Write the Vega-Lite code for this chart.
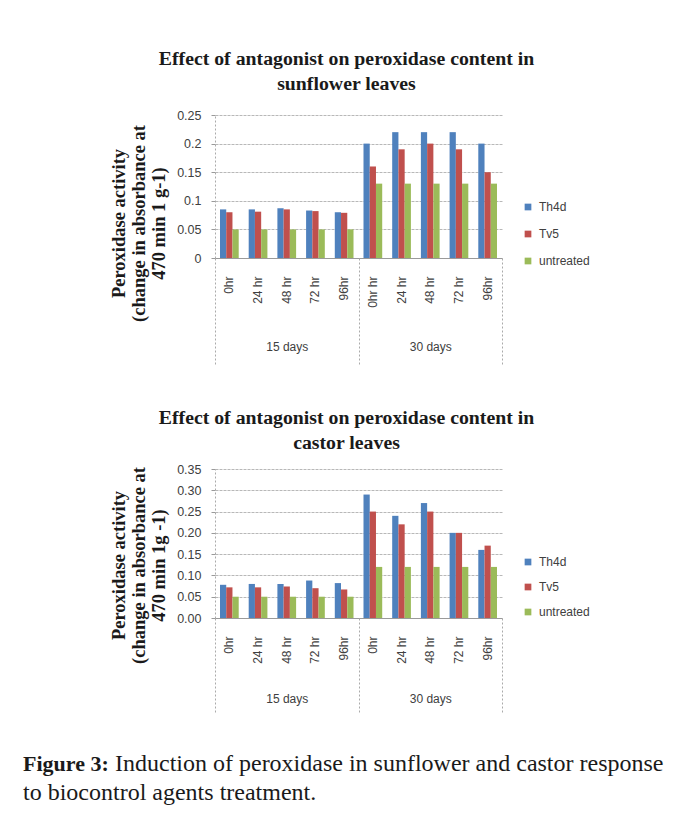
{
  "$schema": "https://vega.github.io/schema/vega-lite/v6.json",
  "background": "white",
  "padding": {"left": 23, "top": 49, "right": 5, "bottom": 5},
  "datasets": {
    "sunflower": [
      {"days": "15 days", "cat": "15 days|0hr", "series": "Th4d", "value": 0.085},
      {"days": "15 days", "cat": "15 days|0hr", "series": "Tv5", "value": 0.080},
      {"days": "15 days", "cat": "15 days|0hr", "series": "untreated", "value": 0.050},
      {"days": "15 days", "cat": "15 days|24 hr", "series": "Th4d", "value": 0.085},
      {"days": "15 days", "cat": "15 days|24 hr", "series": "Tv5", "value": 0.081},
      {"days": "15 days", "cat": "15 days|24 hr", "series": "untreated", "value": 0.050},
      {"days": "15 days", "cat": "15 days|48 hr", "series": "Th4d", "value": 0.087},
      {"days": "15 days", "cat": "15 days|48 hr", "series": "Tv5", "value": 0.085},
      {"days": "15 days", "cat": "15 days|48 hr", "series": "untreated", "value": 0.050},
      {"days": "15 days", "cat": "15 days|72 hr", "series": "Th4d", "value": 0.083},
      {"days": "15 days", "cat": "15 days|72 hr", "series": "Tv5", "value": 0.082},
      {"days": "15 days", "cat": "15 days|72 hr", "series": "untreated", "value": 0.050},
      {"days": "15 days", "cat": "15 days|96hr", "series": "Th4d", "value": 0.080},
      {"days": "15 days", "cat": "15 days|96hr", "series": "Tv5", "value": 0.079},
      {"days": "15 days", "cat": "15 days|96hr", "series": "untreated", "value": 0.050},
      {"days": "30 days", "cat": "30 days|0hr hr", "series": "Th4d", "value": 0.20},
      {"days": "30 days", "cat": "30 days|0hr hr", "series": "Tv5", "value": 0.16},
      {"days": "30 days", "cat": "30 days|0hr hr", "series": "untreated", "value": 0.13},
      {"days": "30 days", "cat": "30 days|24 hr", "series": "Th4d", "value": 0.22},
      {"days": "30 days", "cat": "30 days|24 hr", "series": "Tv5", "value": 0.19},
      {"days": "30 days", "cat": "30 days|24 hr", "series": "untreated", "value": 0.13},
      {"days": "30 days", "cat": "30 days|48 hr", "series": "Th4d", "value": 0.22},
      {"days": "30 days", "cat": "30 days|48 hr", "series": "Tv5", "value": 0.20},
      {"days": "30 days", "cat": "30 days|48 hr", "series": "untreated", "value": 0.13},
      {"days": "30 days", "cat": "30 days|72 hr", "series": "Th4d", "value": 0.22},
      {"days": "30 days", "cat": "30 days|72 hr", "series": "Tv5", "value": 0.19},
      {"days": "30 days", "cat": "30 days|72 hr", "series": "untreated", "value": 0.13},
      {"days": "30 days", "cat": "30 days|96hr", "series": "Th4d", "value": 0.20},
      {"days": "30 days", "cat": "30 days|96hr", "series": "Tv5", "value": 0.15},
      {"days": "30 days", "cat": "30 days|96hr", "series": "untreated", "value": 0.13}
    ],
    "castor": [
      {"days": "15 days", "cat": "15 days|0hr", "series": "Th4d", "value": 0.078},
      {"days": "15 days", "cat": "15 days|0hr", "series": "Tv5", "value": 0.072},
      {"days": "15 days", "cat": "15 days|0hr", "series": "untreated", "value": 0.050},
      {"days": "15 days", "cat": "15 days|24 hr", "series": "Th4d", "value": 0.080},
      {"days": "15 days", "cat": "15 days|24 hr", "series": "Tv5", "value": 0.072},
      {"days": "15 days", "cat": "15 days|24 hr", "series": "untreated", "value": 0.050},
      {"days": "15 days", "cat": "15 days|48 hr", "series": "Th4d", "value": 0.080},
      {"days": "15 days", "cat": "15 days|48 hr", "series": "Tv5", "value": 0.074},
      {"days": "15 days", "cat": "15 days|48 hr", "series": "untreated", "value": 0.050},
      {"days": "15 days", "cat": "15 days|72 hr", "series": "Th4d", "value": 0.088},
      {"days": "15 days", "cat": "15 days|72 hr", "series": "Tv5", "value": 0.070},
      {"days": "15 days", "cat": "15 days|72 hr", "series": "untreated", "value": 0.050},
      {"days": "15 days", "cat": "15 days|96hr", "series": "Th4d", "value": 0.082},
      {"days": "15 days", "cat": "15 days|96hr", "series": "Tv5", "value": 0.067},
      {"days": "15 days", "cat": "15 days|96hr", "series": "untreated", "value": 0.050},
      {"days": "30 days", "cat": "30 days|0hr", "series": "Th4d", "value": 0.29},
      {"days": "30 days", "cat": "30 days|0hr", "series": "Tv5", "value": 0.25},
      {"days": "30 days", "cat": "30 days|0hr", "series": "untreated", "value": 0.12},
      {"days": "30 days", "cat": "30 days|24 hr", "series": "Th4d", "value": 0.24},
      {"days": "30 days", "cat": "30 days|24 hr", "series": "Tv5", "value": 0.22},
      {"days": "30 days", "cat": "30 days|24 hr", "series": "untreated", "value": 0.12},
      {"days": "30 days", "cat": "30 days|48 hr", "series": "Th4d", "value": 0.27},
      {"days": "30 days", "cat": "30 days|48 hr", "series": "Tv5", "value": 0.25},
      {"days": "30 days", "cat": "30 days|48 hr", "series": "untreated", "value": 0.12},
      {"days": "30 days", "cat": "30 days|72 hr", "series": "Th4d", "value": 0.20},
      {"days": "30 days", "cat": "30 days|72 hr", "series": "Tv5", "value": 0.20},
      {"days": "30 days", "cat": "30 days|72 hr", "series": "untreated", "value": 0.12},
      {"days": "30 days", "cat": "30 days|96hr", "series": "Th4d", "value": 0.16},
      {"days": "30 days", "cat": "30 days|96hr", "series": "Tv5", "value": 0.17},
      {"days": "30 days", "cat": "30 days|96hr", "series": "untreated", "value": 0.12}
    ]
  },
  "title": {
    "text": "Induction of peroxidase in sunflower and castor response",
    "orient": "bottom", "anchor": "start", "frame": "bounds",
    "font": "Liberation Serif", "fontSize": 24, "fontWeight": "normal", "color": "#1a1a1a",
    "dx": 92, "dy": -53, "offset": 0
  },
  "vconcat": [
    {
      "title": {
        "text": "Figure 3:", "subtitle": "to biocontrol agents treatment.",
        "orient": "bottom", "anchor": "start", "frame": "bounds",
        "font": "Liberation Serif", "fontSize": 22, "fontWeight": "bold", "color": "#1a1a1a",
        "subtitleFont": "Liberation Serif", "subtitleFontSize": 24, "subtitleFontWeight": "normal",
        "subtitleColor": "#1a1a1a", "subtitlePadding": 5,
        "dx": -86, "offset": 41
      },
      "bounds": "flush",
      "spacing": 211,
      "resolve": {"scale": {"color": "independent"}, "legend": {"color": "independent"}},
      "vconcat": [
        {
          "width": 287, "height": 143,
          "data": {"name": "sunflower"},
          "title": {
            "text": ["Effect of antagonist on peroxidase content in", "sunflower leaves"],
            "font": "Liberation Serif", "fontSize": 19.8, "fontWeight": "bold", "lineHeight": 25,
            "color": "#1a1a1a", "anchor": "middle", "frame": "bounds", "offset": 15, "dx": -3
          },
          "layer": [
            {
              "mark": {"type": "bar"},
              "encoding": {
                "x": {"field": "cat", "type": "nominal", "sort": null,
                  "scale": {"paddingInner": 0, "paddingOuter": 0},
                  "axis": {"title": null, "labelExpr": "split(datum.label, '|')[1]", "labelAngle": 270,
                    "labelAlign": "right", "labelBaseline": "middle", "labelPadding": 18, "ticks": false,
                    "domain": true, "domainColor": "#9a9a9a", "labelFont": "Liberation Sans",
                    "labelFontSize": 12, "labelColor": "#404040", "grid": false}},
                "xOffset": {"field": "series", "type": "nominal", "sort": ["Th4d", "Tv5", "untreated"],
                  "scale": {"paddingInner": 0, "paddingOuter": 0.8}},
                "y": {"field": "value", "type": "quantitative",
                  "scale": {"domain": [0, 0.25], "nice": false},
                  "axis": {"title": ["Peroxidase activity", "(change in absorbance at", "470 min 1 g-1)"],
                    "values": [0, 0.05, 0.1, 0.15, 0.2, 0.25], "format": ".2~f",
                    "grid": true, "gridColor": "#b8b8b8", "gridDash": [3, 1],
                    "tickSize": 4, "tickColor": "#9a9a9a", "domainColor": "#aaaaaa", "domainDash": [2, 2],
                    "labelPadding": 10, "labelFont": "Liberation Sans", "labelFontSize": 12.5, "labelColor": "#404040",
                    "titleFont": "Liberation Serif", "titleFontSize": 18.5, "titleFontWeight": "bold",
                    "titleColor": "#1a1a1a", "titleLineHeight": 20, "titleAngle": 270, "titleAlign": "center",
                    "titleBaseline": "middle", "titleX": -97, "titleY": 108}},
                "color": {"field": "series", "type": "nominal",
                  "scale": {"domain": ["Th4d", "Tv5", "untreated"], "range": ["#4f81bd", "#c0504d", "#9bbb59"]},
                  "legend": {"title": null, "orient": "none", "legendX": 307, "legendY": 86,
                    "symbolType": "square", "symbolSize": 45, "symbolStrokeWidth": 0,
                    "labelFont": "Liberation Sans", "labelFontSize": 12, "labelColor": "#404040",
                    "rowPadding": 15, "padding": 0, "labelOffset": 5}}
              }
            },
            {
              "mark": {"type": "rule", "opacity": 0},
              "encoding": {
                "x": {"field": "days", "type": "nominal", "sort": null,
                  "scale": {"paddingInner": 0, "paddingOuter": 0},
                  "axis": {"orient": "bottom", "title": null, "tickBand": "extent", "tickSize": 106,
                    "tickColor": "#aaaaaa", "tickDash": [2, 2], "domain": false, "labelAngle": 0,
                    "labelPadding": -23, "labelFont": "Liberation Sans", "labelFontSize": 12,
                    "labelColor": "#404040", "grid": false}}
              }
            }
          ],
          "resolve": {"scale": {"x": "independent"}, "axis": {"x": "independent"}}
        },
        {
          "width": 287, "height": 149,
          "data": {"name": "castor"},
          "title": {
            "text": ["Effect of antagonist on peroxidase content in", "castor leaves"],
            "font": "Liberation Serif", "fontSize": 19.8, "fontWeight": "bold", "lineHeight": 25,
            "color": "#1a1a1a", "anchor": "middle", "frame": "bounds", "offset": 10, "dx": -3
          },
          "layer": [
            {
              "mark": {"type": "bar"},
              "encoding": {
                "x": {"field": "cat", "type": "nominal", "sort": null,
                  "scale": {"paddingInner": 0, "paddingOuter": 0},
                  "axis": {"title": null, "labelExpr": "split(datum.label, '|')[1]", "labelAngle": 270,
                    "labelAlign": "right", "labelBaseline": "middle", "labelPadding": 18, "ticks": false,
                    "domain": true, "domainColor": "#9a9a9a", "labelFont": "Liberation Sans",
                    "labelFontSize": 12, "labelColor": "#404040", "grid": false}},
                "xOffset": {"field": "series", "type": "nominal", "sort": ["Th4d", "Tv5", "untreated"],
                  "scale": {"paddingInner": 0, "paddingOuter": 0.8}},
                "y": {"field": "value", "type": "quantitative",
                  "scale": {"domain": [0, 0.35], "nice": false},
                  "axis": {"title": ["Peroxidase activity", "(change in absorbance at", "470 min 1g -1)"],
                    "values": [0, 0.05, 0.1, 0.15, 0.2, 0.25, 0.3, 0.35], "format": ".2f",
                    "grid": true, "gridColor": "#b8b8b8", "gridDash": [3, 1],
                    "tickSize": 4, "tickColor": "#9a9a9a", "domainColor": "#aaaaaa", "domainDash": [2, 2],
                    "labelPadding": 10, "labelFont": "Liberation Sans", "labelFontSize": 12.5, "labelColor": "#404040",
                    "titleFont": "Liberation Serif", "titleFontSize": 18.5, "titleFontWeight": "bold",
                    "titleColor": "#1a1a1a", "titleLineHeight": 20, "titleAngle": 270, "titleAlign": "center",
                    "titleBaseline": "middle", "titleX": -97, "titleY": 96}},
                "color": {"field": "series", "type": "nominal",
                  "scale": {"domain": ["Th4d", "Tv5", "untreated"], "range": ["#4f81bd", "#c0504d", "#9bbb59"]},
                  "legend": {"title": null, "orient": "none", "legendX": 307, "legendY": 87,
                    "symbolType": "square", "symbolSize": 45, "symbolStrokeWidth": 0,
                    "labelFont": "Liberation Sans", "labelFontSize": 12, "labelColor": "#404040",
                    "rowPadding": 13, "padding": 0, "labelOffset": 5}}
              }
            },
            {
              "mark": {"type": "rule", "opacity": 0},
              "encoding": {
                "x": {"field": "days", "type": "nominal", "sort": null,
                  "scale": {"paddingInner": 0, "paddingOuter": 0},
                  "axis": {"orient": "bottom", "title": null, "tickBand": "extent", "tickSize": 94,
                    "tickColor": "#aaaaaa", "tickDash": [2, 2], "domain": false, "labelAngle": 0,
                    "labelPadding": -19, "labelFont": "Liberation Sans", "labelFontSize": 12,
                    "labelColor": "#404040", "grid": false}}
              }
            }
          ],
          "resolve": {"scale": {"x": "independent"}, "axis": {"x": "independent"}}
        }
      ]
    }
  ],
  "config": {
    "view": {"stroke": null}
  }
}
